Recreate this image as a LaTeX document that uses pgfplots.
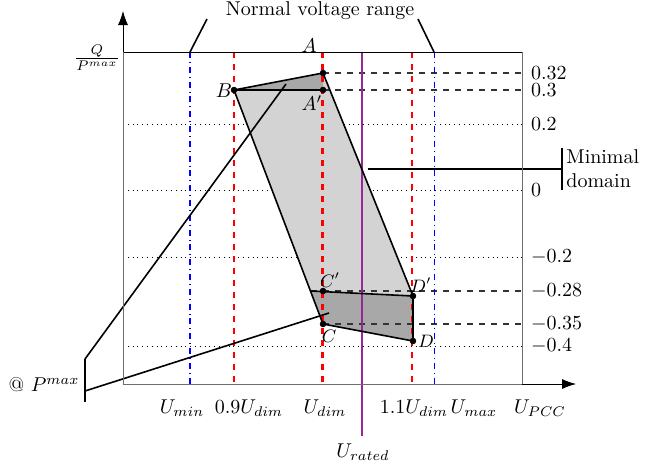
\documentclass[border=0pt]{standalone}
\usepackage{pgfplots}
\pgfplotsset{compat=1.18}
\usetikzlibrary{arrows.meta}
\definecolor{lgray}{RGB}{211,211,211}
\definecolor{dgray}{RGB}{168,168,168}
\definecolor{vpurple}{RGB}{150,40,150}
\definecolor{axgray}{RGB}{110,110,110}
\begin{document}
\begin{tikzpicture}
\begin{axis}[
  x=0.5pt, y=0.5pt, y dir=reverse,
  xmin=123, xmax=522, ymin=52, ymax=384,
  clip=false,
  axis line style={draw=none},
  xtick=\empty,
  ytick={73,90,124,190,257,291,324,346},
  yticklabels={0.32,0.3,0.2,0,$-0.2$,$-0.28$,$-0.35$,$-0.4$},
  yticklabel pos=right,
  major tick length=0pt,
  yticklabel style={anchor=west, xshift=1pt},
]
% grid (dotted)
\addplot[black, dotted, thin] coordinates {(123,124)(522,124)};
\addplot[black, dotted, thin] coordinates {(123,190)(522,190)};
\addplot[black, dotted, thin] coordinates {(123,257)(522,257)};
\addplot[black, dotted, thin] coordinates {(123,346)(522,346)};
% polygons
\addplot[fill=lgray, draw=none] coordinates {(234,90)(323,73)(413,296)(413,341)(323,324)} -- cycle;
\addplot[fill=dgray, draw=none] coordinates {(234,90)(323,73)(323,90)} -- cycle;
\addplot[fill=dgray, draw=none] coordinates {(310.5,291)(413,296)(413,341)(323,324)} -- cycle;
% dashed horizontals
\addplot[black!80, dashed, semithick] coordinates {(323,73)(522,73)};
\addplot[black!80, dashed, semithick] coordinates {(323,90)(522,90)};
\addplot[black!80, dashed, semithick] coordinates {(310.5,291)(522,291)};
\addplot[black!80, dashed, semithick] coordinates {(323,324)(522,324)};
% vertical lines
\addplot[blue, dashdotted, semithick] coordinates {(190,52)(190,384)};
\addplot[blue, dashdotted, thin] coordinates {(434,52)(434,384)};
\addplot[red, dashed, line width=0.9pt] coordinates {(234,52)(234,384)};
\addplot[red, dashed, line width=1.4pt] coordinates {(322.5,52)(322.5,384)};
\addplot[red, dashed, line width=0.9pt] coordinates {(412,52)(412,384)};
\addplot[vpurple, line width=1pt] coordinates {(362,52)(362,436)};
% polygon edges
\addplot[black, thick] coordinates {(234,90)(323,73)};
\addplot[black, line width=1.1pt] coordinates {(234,90)(323,90)};
\addplot[black, thick] coordinates {(323,73)(413,296)(413,341)(323,324)(234,90)};
\addplot[black, thick] coordinates {(310.5,291)(413,296)};
% points
\addplot[only marks, mark=*, mark size=1.4pt, black] coordinates {(323,73)(323,90)(234,90)(323,291)(413,296)(323,324)(413,341)};
% annotation lines
\addplot[black, thick] coordinates {(85,359)(85,402)};
\addplot[black, thick] coordinates {(85,359)(286,84)};
\addplot[black, thick] coordinates {(85,391)(329,313)};
\addplot[black, thick] coordinates {(368,169)(562,169)};
\addplot[black, thick] coordinates {(562,148)(562,190)};
\addplot[black, thick] coordinates {(190,52)(207,19)};
\addplot[black, thick] coordinates {(434,52)(418,19)};
% frame
\draw[black] (axis cs:123,52) -- (axis cs:522,52);
\draw[axgray] (axis cs:522,52) -- (axis cs:522,384);
\draw[axgray] (axis cs:123,52) -- (axis cs:123,384) -- (axis cs:522,384);
\draw[black, -{Latex[length=7pt,width=5pt]}] (axis cs:123,52) -- (axis cs:123,11);
\draw[black, -{Latex[length=7pt,width=5pt]}] (axis cs:522,384) -- (axis cs:576,384);
% texts
\node at (axis cs:320,11) {Normal voltage range};
\node at (axis cs:97,58) {$\frac{Q}{P^{max}}$};
\node at (axis cs:182,408) {$U_{min}$};
\node at (axis cs:249,408) {$0.9U_{dim}$};
\node at (axis cs:325,408) {$U_{dim}$};
\node at (axis cs:414,408) {$1.1U_{dim}$};
\node at (axis cs:474,408) {$U_{max}$};
\node at (axis cs:540,408) {$U_{PCC}$};
\node at (axis cs:363,452) {$U_{rated}$};
\node at (axis cs:44,385) {@ $P^{max}$};
\node[anchor=west, align=left, inner sep=0pt] at (axis cs:566,169) {Minimal\\domain};
\node at (axis cs:309,46) {$A$};
\node at (axis cs:312,103) {$A'$};
\node at (axis cs:224,91) {$B$};
\node at (axis cs:330,280) {\small$C'$};
\node at (axis cs:421,285) {\small$D'$};
\node at (axis cs:329,336) {\small$C$};
\node at (axis cs:426,341) {\small$D$};
\coordinate (bbtl) at (axis cs:0,0);
\coordinate (bbbr) at (axis cs:656,466);
\end{axis}
\pgfresetboundingbox
\path[use as bounding box] (bbtl) rectangle (bbbr);
\end{tikzpicture}
\end{document}
